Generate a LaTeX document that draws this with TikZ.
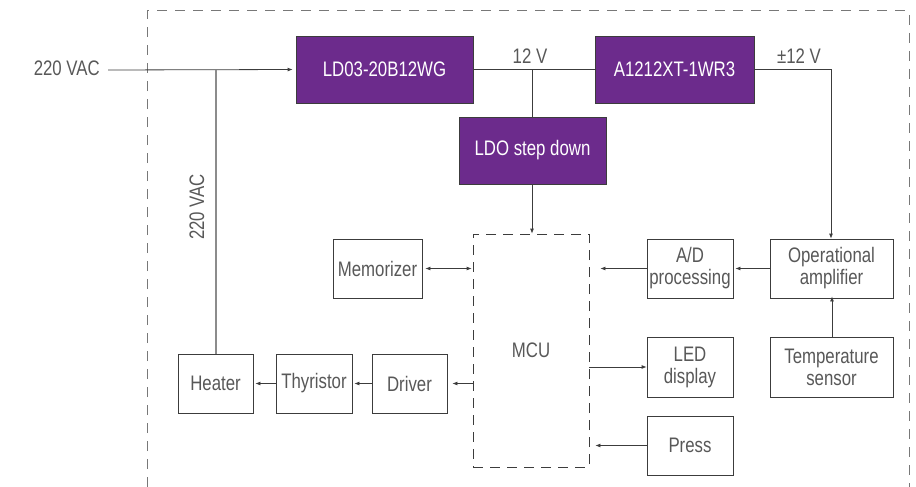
\documentclass[tikz,border=0pt]{standalone}
\usepackage{fontspec}
\setmainfont{Liberation Sans}[FakeStretch=0.8]
\usetikzlibrary{arrows.meta}
\definecolor{purp}{RGB}{108,43,140}
\definecolor{txt}{RGB}{88,88,88}
\definecolor{ln}{RGB}{60,60,60}
\definecolor{dsh}{RGB}{120,120,120}
\begin{document}
\begin{tikzpicture}[x=1pt,y=-1pt,
  font=\fontsize{21}{22}\selectfont,
  pbox/.style={draw=ln,line width=0.8pt,fill=purp,text=white,inner sep=0pt,align=center},
  wbox/.style={draw=ln,line width=0.8pt,fill=white,text=txt,inner sep=0pt,align=center},
  lbl/.style={text=txt,inner sep=0pt},
  conn/.style={draw=ln,line width=0.8pt},
  arr/.style={conn,-{Latex[length=5pt,width=4pt]}},
  darr/.style={conn,{Latex[length=5pt,width=4pt]}-{Latex[length=5pt,width=4pt]}},
  outer/.style={draw=dsh,line width=1pt,dash pattern=on 10pt off 8pt},
  mcustyle/.style={draw=ln,line width=0.8pt,dash pattern=on 10pt off 7pt,text=txt,inner sep=0pt}]
\useasboundingbox (0,0) rectangle (916,487);
% outer frame
\draw[outer] (147,487) -- (147,11) -- (909,11) -- (909,487);
% power boxes
\node[pbox,minimum width=177pt,minimum height=67pt] (ld03) at (384.5,69.5) {LD03-20B12WG};
\node[pbox,minimum width=159pt,minimum height=67pt] (a12) at (674.5,69.5) {A1212XT-1WR3};
\node[pbox,minimum width=147pt,minimum height=67pt] (ldo) at (532.5,150.5) {LDO step down};
% MCU
\node[mcustyle,minimum width=116pt,minimum height=233pt] (mcu) at (531,350.5) {MCU};
% white boxes
\node[wbox,minimum width=89pt,minimum height=59pt] (mem) at (377.5,268.5) {Memorizer};
\node[wbox,minimum width=75pt,minimum height=59pt] (heater) at (215.5,383.5) {Heater};
\node[wbox,minimum width=76pt,minimum height=59pt] (thy) at (314,383.5) {Thyristor};
\node[wbox,minimum width=75pt,minimum height=59pt] (drv) at (409.5,383.5) {Driver};
\node[wbox,minimum width=86pt,minimum height=59pt] (ad) at (690,268.5) {A/D\\processing};
\node[wbox,minimum width=123pt,minimum height=59pt] (op) at (831.5,268.5) {Operational\\amplifier};
\node[wbox,minimum width=86pt,minimum height=60pt] (led) at (690,367) {LED\\display};
\node[wbox,minimum width=123pt,minimum height=60pt] (temp) at (831.5,367) {Temperature\\sensor};
\node[wbox,minimum width=86pt,minimum height=59pt] (press) at (690,445.5) {Press};
% labels
\node[lbl,anchor=east] (vac) at (100,68) {220 VAC};
\coordinate (vin) at (108,70);
\node[lbl] (v12) at (530,56) {12 V};
\node[lbl] (vpm) at (799,56) {±12 V};
\node[lbl,rotate=90] (vac2) at (197,207) {220 VAC};
% junctions
\coordinate (j1) at (216,70);
\coordinate (j2) at (532,70);
% connectors
\draw[arr,shorten >=3pt] (vin) -- (ld03.west);
\draw[draw=dsh!85,line width=1.6pt] (j1) -- (heater.north -| j1);
\draw[conn] (ld03.east) -- (a12.west);
\draw[conn] (j2) -- (ldo.north -| j2);
\draw[arr] (ldo.south -| j2) -- (mcu.north -| j2);
\draw[arr] (a12.east) -| (op.north -| 831,0);
\draw[arr] (temp.north -| 832,0) -- ([yshift=2pt]op.south -| 832,0);
\draw[arr,shorten >=2pt] (op.west) -- (ad.east);
\draw[arr] (ad.west) -- ([xshift=11pt]mcu.east |- ad.west);
\draw[arr] (mcu.east |- led.west) -- (led.west);
\draw[arr] (press.west) -- ([xshift=6pt]mcu.east |- press.west);
\draw[darr,shorten <=3pt,shorten >=1pt] (mem.east) -- (mcu.west |- mem.east);
\draw[arr,shorten >=5pt] (mcu.west |- drv.east) -- (drv.east);
\draw[arr,shorten >=2pt] (drv.west) -- (thy.east);
\draw[arr,shorten >=2pt] (thy.west) -- (heater.east);
\end{tikzpicture}
\end{document}
